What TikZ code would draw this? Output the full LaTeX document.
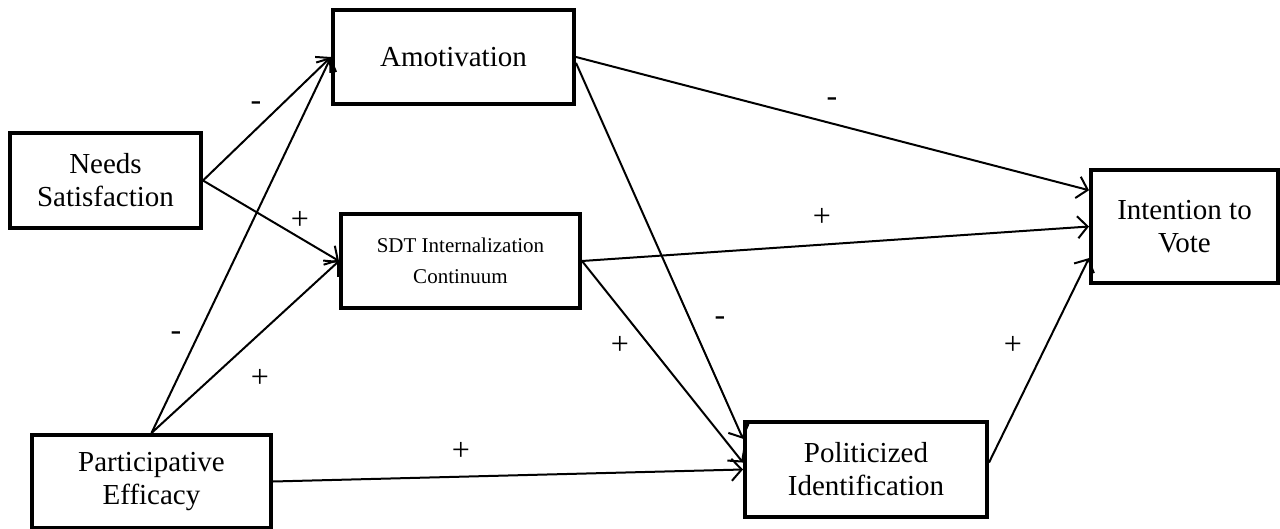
\documentclass[tikz,border=0pt]{standalone}
\usepackage{fontspec}
\setmainfont{Liberation Serif}
\usetikzlibrary{arrows.meta,calc}
\begin{document}
\begin{tikzpicture}[x=0.5pt,y=-0.5pt,
  box/.style={draw,line width=2pt,inner sep=0pt,align=center,font=\fontsize{14.5}{16.5}\selectfont},
  link/.style={line width=1pt,-{Straight Barb[length=5pt,width=11pt,line width=1pt]}},
  sign/.style={font=\fontsize{16}{18}\selectfont,inner sep=0pt}]
\useasboundingbox (0,0) rectangle (1280,529);
\node[box,minimum width=120.5pt,minimum height=47pt] (amot) at (453.5,57) {Amotivation};
\node[box,minimum width=95.5pt,minimum height=47.5pt] (needs) at (105.5,180.5) {Needs\\Satisfaction};
\node[box,minimum width=119.5pt,minimum height=47pt,font=\fontsize{10.5}{15.5}\selectfont] (sdt) at (460.5,261) {SDT Internalization\\Continuum};
\node[box,minimum width=119.5pt,minimum height=46.5pt] (part) at (151.5,481.5) {Participative\\Efficacy};
\node[box,minimum width=121pt,minimum height=47.5pt] (pol) at (866,469.5) {Politicized\\Identification};
\node[box,minimum width=93.5pt,minimum height=56.5pt] (int) at (1184.5,226.5) {Intention to\\Vote};
% connectors
\draw[link] (needs.east) -- (amot.west);
\draw[link] (needs.east) -- (sdt.west);
\draw[link] (part.north) -- (amot.west);
\draw[link] (part.north) -- (sdt.west);
\draw[link] (part.east) -- (pol.west);
\draw[link] (amot.east) -- ($(int.north west)!0.19!(int.south west)$);
\draw[link] (sdt.east) -- (int.west);
\draw[link] ($(amot.north east)!0.56!(amot.south east)$) -- ($(pol.north west)!0.19!(pol.south west)$);
\draw[link] (sdt.east) -- ($(pol.north west)!0.43!(pol.south west)$);
\draw[link] ($(pol.north east)!0.43!(pol.south east)$) -- ($(int.north west)!0.77!(int.south west)$);
% signs
\node[sign] (s1) at (256,106) {-};
\node[sign] (s2) at (300,220) {+};
\node[sign] (s3) at (176,336) {-};
\node[sign] (s4) at (260,378) {+};
\node[sign] (s5) at (461,451) {+};
\node[sign] (s6) at (832,102) {-};
\node[sign] (s7) at (822,217) {+};
\node[sign] (s8) at (720,321) {-};
\node[sign] (s9) at (620,345) {+};
\node[sign] (s10) at (1013,345) {+};
\end{tikzpicture}
\end{document}
